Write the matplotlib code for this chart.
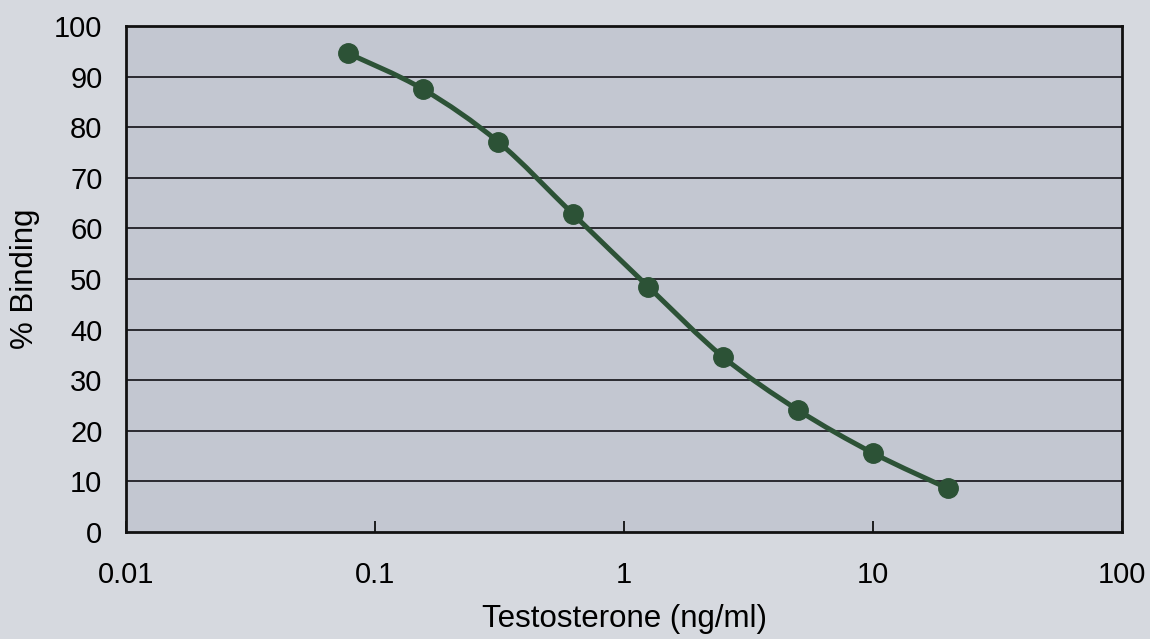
import matplotlib.pyplot as plt
from matplotlib.path import Path
from matplotlib.patches import PathPatch
import numpy as np

plt.rcParams['font.family'] = ['Liberation Sans', 'DejaVu Sans']

# standard curve values
conc = [0.078, 0.156, 0.3125, 0.625, 1.25, 2.5, 5, 10, 20]
binding = [94.6, 87.5, 77.1, 62.8, 48.5, 34.6, 24.1, 15.6, 8.6]
x_ticks = [0.01, 0.1, 1, 10, 100]
x_labels = ["0.01", "0.1", "1", "10", "100"]
y_ticks = [0, 10, 20, 30, 40, 50, 60, 70, 80, 90, 100]

line_col = "#2c5236"
fig_bg = "#d6d9df"
ax_bg = "#c3c7d1"


def smooth_path(xs, ys, tension=1 / 6):
    # Excel-like smoothed line: bezier control points in log-x space
    lx = np.log10(xs)
    ys = np.asarray(ys, dtype=float)
    n = len(lx)
    verts = [(xs[0], ys[0])]
    codes = [Path.MOVETO]
    for i in range(n - 1):
        p0 = (lx[max(i - 1, 0)], ys[max(i - 1, 0)])
        p1 = (lx[i], ys[i])
        p2 = (lx[i + 1], ys[i + 1])
        p3 = (lx[min(i + 2, n - 1)], ys[min(i + 2, n - 1)])
        c1 = (p1[0] + (p2[0] - p0[0]) * tension, p1[1] + (p2[1] - p0[1]) * tension)
        c2 = (p2[0] - (p3[0] - p1[0]) * tension, p2[1] - (p3[1] - p1[1]) * tension)
        for c in (c1, c2, p2):
            verts.append((10 ** c[0], c[1]))
            codes.append(Path.CURVE4)
    return Path(verts, codes)


fig = plt.figure(figsize=(11.5, 6.39), dpi=100, facecolor=fig_bg)
ax = fig.add_axes([126 / 1150, 1 - 532 / 639, (1122 - 126) / 1150, (532 - 26) / 639])
ax.set_facecolor(ax_bg)

ax.set_xscale("log")
ax.set_xlim(0.01, 100)
ax.set_ylim(0, 100)

for v in y_ticks[1:-1]:
    ax.axhline(v, color="#2a2a30", lw=1.4, zorder=1)

ax.add_patch(PathPatch(smooth_path(conc, binding), fill=False,
                       edgecolor=line_col, lw=3.6, zorder=3))
ax.plot(conc, binding, ls="none", marker="o", ms=14, color=line_col, zorder=4)

ax.set_xticks(x_ticks)
ax.set_xticklabels(x_labels)
ax.xaxis.set_minor_locator(plt.NullLocator())
ax.set_yticks(y_ticks)
ax.tick_params(axis="x", direction="in", length=8, width=1.2, pad=21,
               labelsize=21, top=False)
ax.tick_params(axis="y", length=0, pad=17, labelsize=21)

for s in ax.spines.values():
    s.set_linewidth(2)
    s.set_color("#111111")

ax.set_xlabel("Testosterone (ng/ml)", fontsize=22.5, labelpad=11)
ax.set_ylabel("% Binding", fontsize=22.5, labelpad=10)

fig.savefig("out.png", dpi=100, facecolor=fig_bg)
